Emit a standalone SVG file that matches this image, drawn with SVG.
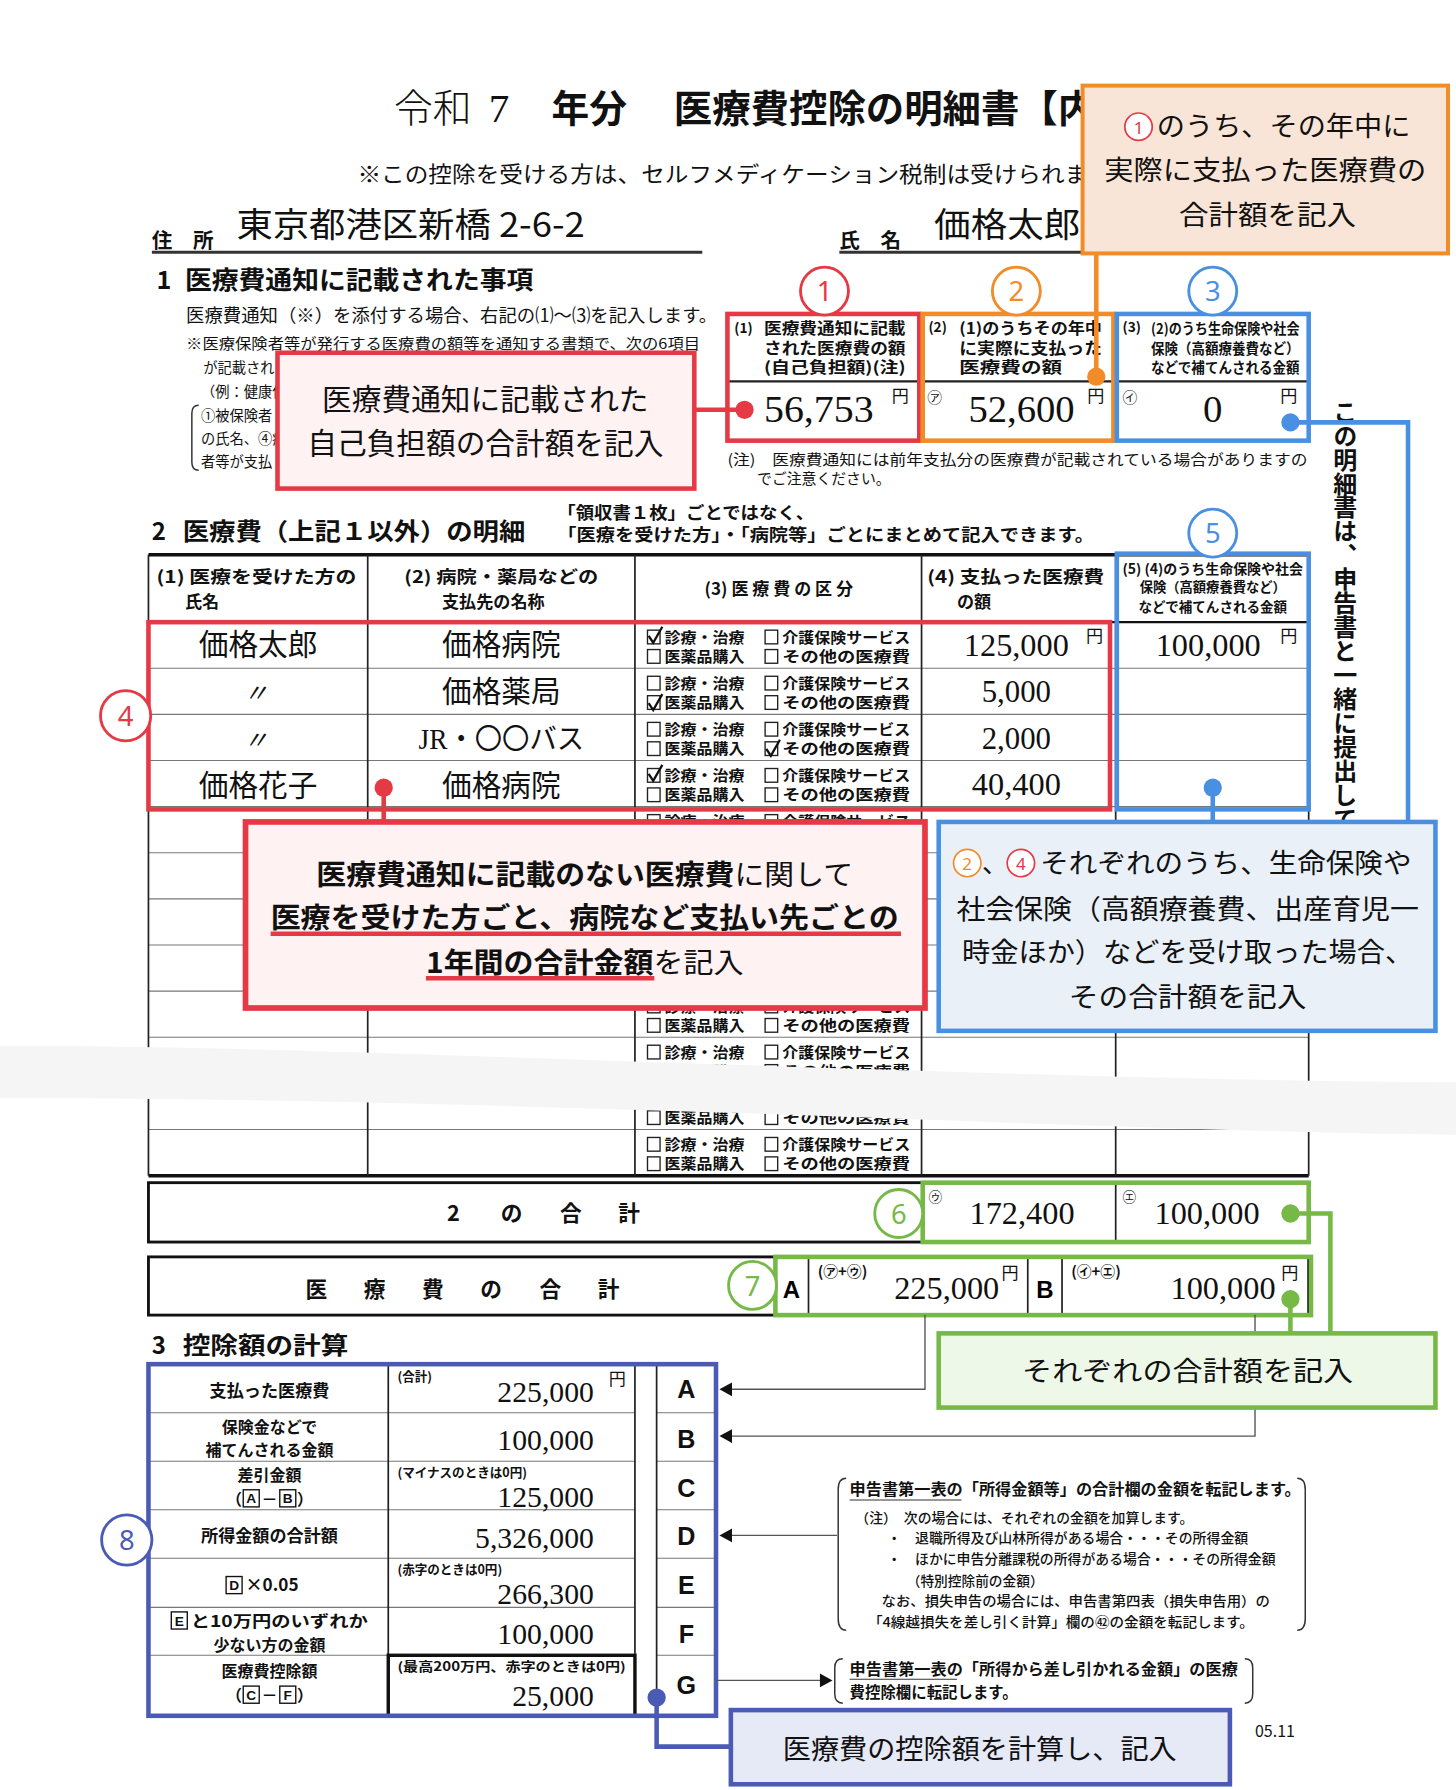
<svg xmlns="http://www.w3.org/2000/svg" width="1456" height="1790" viewBox="0 0 1456 1790">
<style>
.j{font-family:"Noto Sans CJK JP","Noto Sans",sans-serif;fill:#111}
.jb{font-family:"Noto Sans CJK JP","Noto Sans",sans-serif;font-weight:700;fill:#111}
.sf{font-family:"Liberation Serif","Noto Sans CJK JP",serif;fill:#111}
.ln{stroke:#222;stroke-width:1.5;fill:none}
.lg{stroke:#777;stroke-width:1;fill:none}
.bx{fill:#fff;stroke:#222;stroke-width:1.2}
.ck{fill:none;stroke:#111;stroke-width:2}
.cr{stroke:#e63946;fill:none;stroke-width:4}
.co{stroke:#f28c28;fill:none;stroke-width:4}
.cb{stroke:#4a90e2;fill:none;stroke-width:4}
.cg{stroke:#76b947;fill:none;stroke-width:4}
.ci{stroke:#4b5bb5;fill:none;stroke-width:4}
.num{font-family:"Noto Sans",sans-serif;font-size:24px;text-anchor:middle}
.cbt{font-family:"Noto Sans CJK JP",sans-serif;font-weight:700;font-size:13px;fill:#111}
.lab{font-family:"Noto Sans CJK JP",sans-serif;font-weight:700;font-size:15px;fill:#111;text-anchor:middle}
.lab2{font-family:"Noto Sans CJK JP",sans-serif;font-weight:700;font-size:14px;fill:#111;text-anchor:middle}
.sq{fill:none;stroke:#111;stroke-width:1.2}
.sql{font-family:"Liberation Sans",sans-serif;font-weight:700;font-size:12px;fill:#111;text-anchor:middle}
.gl{stroke:#555;stroke-width:1.2;fill:none}
.ah{fill:#111}
</style>
<defs>
<g id="cbrow">
<rect class="bx" x="567" y="7" width="11" height="12"/>
<text class="cbt" x="582" y="18" textLength="70" lengthAdjust="spacingAndGlyphs">診療・治療</text>
<rect class="bx" x="670" y="7" width="11" height="12"/>
<text class="cbt" x="685" y="18" textLength="112" lengthAdjust="spacingAndGlyphs">介護保険サービス</text>
<rect class="bx" x="567" y="24" width="11" height="12"/>
<text class="cbt" x="582" y="35" textLength="70" lengthAdjust="spacingAndGlyphs">医薬品購入</text>
<rect class="bx" x="670" y="24" width="11" height="12"/>
<text class="cbt" x="685" y="35" textLength="112" lengthAdjust="spacingAndGlyphs">その他の医療費</text>
</g>
</defs>
<rect width="1456" height="1790" fill="#fff"/>
<g transform="scale(1.14196,1.14158)">

<!-- Header -->
<g id="title">
<text class="j" x="345" y="107" font-size="34" font-weight="300">令和</text>
<text class="sf" x="428" y="107" font-size="36">7</text>
<text class="jb" x="483" y="107" font-size="33">年分</text>
<text class="jb" x="590" y="107" font-size="33" textLength="370" lengthAdjust="spacingAndGlyphs">医療費控除の明細書【内</text>
<text class="j" x="313" y="159" font-size="19" textLength="640" lengthAdjust="spacingAndGlyphs">※この控除を受ける方は、セルフメディケーション税制は受けられま</text>
<text class="jb" x="133" y="217" font-size="18">住　所</text>
<text class="j" x="207" y="208" font-size="30" textLength="305" lengthAdjust="spacingAndGlyphs">東京都港区新橋 2-6-2</text>
<line x1="133" y1="221" x2="615" y2="221" stroke="#333" stroke-width="2.5"/>
<text class="jb" x="735" y="217" font-size="18">氏　名</text>
<text class="j" x="818" y="208" font-size="30" textLength="128" lengthAdjust="spacingAndGlyphs">価格太郎</text>
<line x1="735" y1="221" x2="948" y2="221" stroke="#333" stroke-width="2.5"/>
</g>

<!-- Section 1 -->
<g id="sec1">
<text class="jb" x="137" y="253" font-size="22">1</text>
<text class="jb" x="162" y="253" font-size="22" textLength="305" lengthAdjust="spacingAndGlyphs">医療費通知に記載された事項</text>
<text class="j" x="163" y="282" font-size="16" textLength="465" lengthAdjust="spacingAndGlyphs">医療費通知（※）を添付する場合、右記の⑴〜⑶を記入します。</text>
<text class="j" x="163" y="306" font-size="12.5" textLength="450" lengthAdjust="spacingAndGlyphs" fill="#333">※医療保険者等が発行する医療費の額等を通知する書類で、次の6項目</text>
<text class="j" x="178" y="327" font-size="12.5" fill="#333">が記載され</text>
<text class="j" x="176" y="348" font-size="12.5" fill="#333">（例：健康保</text>
<text class="j" x="176" y="369" font-size="12.5" fill="#333">①被保険者</text>
<text class="j" x="176" y="389" font-size="12.5" fill="#333">の氏名、④療</text>
<text class="j" x="176" y="409" font-size="12.5" fill="#333">者等が支払</text>
<path d="M174,355 Q168,355 168,362 L168,405 Q168,412 174,412" fill="none" stroke="#333" stroke-width="1.3"/>

<text class="jb" x="643" y="292" font-size="12">(1)</text>
<text class="jb" x="669" y="293" font-size="13.5" textLength="124" lengthAdjust="spacingAndGlyphs">医療費通知に記載</text>
<text class="jb" x="669" y="310" font-size="13.5" textLength="124" lengthAdjust="spacingAndGlyphs">された医療費の額</text>
<text class="jb" x="669" y="327" font-size="13.5" textLength="124" lengthAdjust="spacingAndGlyphs">(自己負担額)(注)</text>
<line x1="637" y1="334" x2="805" y2="334" stroke="#222" stroke-width="2"/>
<text class="sf" x="669" y="370" font-size="34" textLength="96" lengthAdjust="spacingAndGlyphs">56,753</text>
<text class="j" x="781" y="352" font-size="15">円</text>

<text class="jb" x="813" y="291" font-size="12">(2)</text>
<text class="jb" x="840" y="293" font-size="13.5" textLength="125" lengthAdjust="spacingAndGlyphs">(1)のうちその年中</text>
<text class="jb" x="840" y="310" font-size="13.5" textLength="125" lengthAdjust="spacingAndGlyphs">に実際に支払った</text>
<text class="jb" x="840" y="327" font-size="13.5" textLength="90" lengthAdjust="spacingAndGlyphs">医療費の額</text>
<line x1="808" y1="334" x2="975" y2="334" stroke="#222" stroke-width="2"/>
<text class="j" x="812" y="353" font-size="13">㋐</text>
<text class="sf" x="848" y="370" font-size="34" textLength="93" lengthAdjust="spacingAndGlyphs">52,600</text>
<text class="j" x="952" y="352" font-size="15">円</text>

<text class="jb" x="983" y="291" font-size="12">(3)</text>
<text class="jb" x="1008" y="293" font-size="12.5" textLength="130" lengthAdjust="spacingAndGlyphs">(2)のうち生命保険や社会</text>
<text class="jb" x="1008" y="310" font-size="12.5" textLength="130" lengthAdjust="spacingAndGlyphs">保険（高額療養費など）</text>
<text class="jb" x="1008" y="327" font-size="12.5" textLength="130" lengthAdjust="spacingAndGlyphs">などで補てんされる金額</text>
<line x1="978" y1="334" x2="1146" y2="334" stroke="#222" stroke-width="2"/>
<text class="j" x="983" y="353" font-size="13">㋑</text>
<text class="sf" x="1062" y="370" font-size="34" text-anchor="middle">0</text>
<text class="j" x="1121" y="352" font-size="15">円</text>

<text class="j" x="637" y="407" font-size="13" textLength="508" lengthAdjust="spacingAndGlyphs">(注)　医療費通知には前年支払分の医療費が記載されている場合がありますの</text>
<text class="j" x="663" y="424" font-size="13">でご注意ください。</text>
</g>

<g id="vtext">
<text class="jb" x="1178" y="350" font-size="21" writing-mode="tb">この明細書は、申告書と一緒に提出して</text>
</g>

<!-- Section 2 table -->
<g id="sec2">
<text class="jb" x="133" y="473" font-size="21">2</text>
<text class="jb" x="160" y="473" font-size="21" textLength="300" lengthAdjust="spacingAndGlyphs">医療費（上記１以外）の明細</text>
<text class="jb" x="488" y="455" font-size="15" textLength="225" lengthAdjust="spacingAndGlyphs" font-weight="500">「領収書１枚」ごとではなく、</text>
<text class="jb" x="488" y="474" font-size="15" textLength="470" lengthAdjust="spacingAndGlyphs" font-weight="500">「医療を受けた方」・「病院等」ごとにまとめて記入できます。</text>

<line x1="130" y1="486" x2="1146" y2="486" stroke="#111" stroke-width="3"/>
<line x1="130" y1="545" x2="1146" y2="545" stroke="#111" stroke-width="2"/>
<g class="lg">
<line x1="130" y1="585.4" x2="1146" y2="585.4"/>
<line x1="130" y1="625.8" x2="1146" y2="625.8"/>
<line x1="130" y1="666.2" x2="1146" y2="666.2"/>
<line x1="130" y1="706.6" x2="1146" y2="706.6"/>
<line x1="130" y1="747" x2="1146" y2="747"/>
<line x1="130" y1="787.4" x2="1146" y2="787.4"/>
<line x1="130" y1="827.8" x2="1146" y2="827.8"/>
<line x1="130" y1="868.2" x2="1146" y2="868.2"/>
<line x1="130" y1="908.6" x2="1146" y2="908.6"/>
<line x1="130" y1="949" x2="1146" y2="949"/>
<line x1="130" y1="989.4" x2="1146" y2="989.4"/>
</g>
<line x1="130" y1="1030" x2="1146" y2="1030" stroke="#111" stroke-width="3"/>
<g class="ln">
<line x1="130" y1="486" x2="130" y2="1030"/>
<line x1="322" y1="486" x2="322" y2="1030"/>
<line x1="556" y1="486" x2="556" y2="1030"/>
<line x1="807" y1="486" x2="807" y2="1030"/>
<line x1="977" y1="486" x2="977" y2="1030"/>
<line x1="1146" y1="486" x2="1146" y2="1030"/>
</g>
<text class="jb" x="137" y="511" font-size="15" textLength="175" lengthAdjust="spacingAndGlyphs">(1) 医療を受けた方の</text>
<text class="jb" x="162" y="533" font-size="15">氏名</text>
<text class="lab" x="439" y="511" textLength="170" lengthAdjust="spacingAndGlyphs">(2) 病院・薬局などの</text>
<text class="lab" x="432" y="533">支払先の名称</text>
<text class="lab" x="682" y="521" textLength="130" lengthAdjust="spacingAndGlyphs">(3) 医 療 費 の 区 分</text>
<text class="jb" x="812" y="511" font-size="15" textLength="155" lengthAdjust="spacingAndGlyphs">(4) 支払った医療費</text>
<text class="jb" x="838" y="533" font-size="15">の額</text>
<text class="jb" x="983" y="503" font-size="12" textLength="158" lengthAdjust="spacingAndGlyphs">(5) (4)のうち生命保険や社会</text>
<text class="jb" x="1062" y="519" font-size="12" text-anchor="middle" textLength="128" lengthAdjust="spacingAndGlyphs">保険（高額療養費など）</text>
<text class="jb" x="1062" y="536" font-size="12" text-anchor="middle" textLength="130" lengthAdjust="spacingAndGlyphs">などで補てんされる金額</text>

<use href="#cbrow" y="545"/>
<use href="#cbrow" y="585.4"/>
<use href="#cbrow" y="625.8"/>
<use href="#cbrow" y="666.2"/>
<use href="#cbrow" y="706.6"/>
<use href="#cbrow" y="747"/>
<use href="#cbrow" y="787.4"/>
<use href="#cbrow" y="827.8"/>
<use href="#cbrow" y="868.2"/>
<use href="#cbrow" y="908.6"/>
<use href="#cbrow" y="949"/>
<use href="#cbrow" y="989.4"/>
<path class="ck" d="M568,557 L572,563 L580,549"/>
<path class="ck" d="M568,616 L572,622 L580,608"/>
<path class="ck" d="M671,656 L675,662 L683,648"/>
<path class="ck" d="M568,678 L572,684 L580,670"/>

<text class="sf" x="226" y="574" font-size="26" text-anchor="middle">価格太郎</text>
<text class="sf" x="439" y="574" font-size="26" text-anchor="middle">価格病院</text>
<text class="sf" x="890" y="575" font-size="27" text-anchor="middle" textLength="92" lengthAdjust="spacingAndGlyphs">125,000</text>
<text class="j" x="951" y="562" font-size="15">円</text>
<text class="sf" x="1058" y="575" font-size="27" text-anchor="middle" textLength="92" lengthAdjust="spacingAndGlyphs">100,000</text>
<text class="j" x="1121" y="562" font-size="15">円</text>

<text class="sf" x="224" y="615" font-size="22" text-anchor="middle" font-style="italic">〃</text>
<text class="sf" x="439" y="615" font-size="26" text-anchor="middle">価格薬局</text>
<text class="sf" x="890" y="615" font-size="27" text-anchor="middle">5,000</text>

<text class="sf" x="224" y="656" font-size="22" text-anchor="middle" font-style="italic">〃</text>
<text class="sf" x="439" y="656" font-size="25" text-anchor="middle" textLength="145" lengthAdjust="spacingAndGlyphs">JR・〇〇バス</text>
<text class="sf" x="890" y="656" font-size="27" text-anchor="middle">2,000</text>

<text class="sf" x="226" y="697" font-size="26" text-anchor="middle">価格花子</text>
<text class="sf" x="439" y="697" font-size="26" text-anchor="middle">価格病院</text>
<text class="sf" x="890" y="696" font-size="27" text-anchor="middle" textLength="78" lengthAdjust="spacingAndGlyphs">40,400</text>
</g>

<!-- gray cut band -->
<path d="M0,916 C150,916 300,921 650,933 C950,943 1150,948 1275,948 L1275,994 C1150,993 950,986 650,975 C300,964 150,962 0,962 Z" fill="#f5f5f5"/>

<!-- totals -->
<g id="totals">
<rect x="130" y="1036" width="1016" height="52" fill="#fff" stroke="#111" stroke-width="2.5"/>
<text class="jb" x="397" y="1070" font-size="19" text-anchor="middle">2</text>
<text class="jb" x="448" y="1070" font-size="19" text-anchor="middle">の</text>
<text class="jb" x="500" y="1070" font-size="19" text-anchor="middle">合</text>
<text class="jb" x="551" y="1070" font-size="19" text-anchor="middle">計</text>
<line x1="977" y1="1036" x2="977" y2="1088" class="ln"/>
<text class="j" x="813" y="1053" font-size="12">㋒</text>
<text class="sf" x="895" y="1072" font-size="27" text-anchor="middle" textLength="92" lengthAdjust="spacingAndGlyphs">172,400</text>
<text class="j" x="983" y="1053" font-size="12">㋓</text>
<text class="sf" x="1057" y="1072" font-size="27" text-anchor="middle" textLength="92" lengthAdjust="spacingAndGlyphs">100,000</text>

<rect x="130" y="1101" width="1016" height="51" fill="#fff" stroke="#111" stroke-width="2.5"/>
<text class="jb" x="277" y="1136" font-size="19" text-anchor="middle">医</text>
<text class="jb" x="328" y="1136" font-size="19" text-anchor="middle">療</text>
<text class="jb" x="379" y="1136" font-size="19" text-anchor="middle">費</text>
<text class="jb" x="430" y="1136" font-size="19" text-anchor="middle">の</text>
<text class="jb" x="482" y="1136" font-size="19" text-anchor="middle">合</text>
<text class="jb" x="533" y="1136" font-size="19" text-anchor="middle">計</text>
<g class="ln">
<line x1="708" y1="1101" x2="708" y2="1152"/>
<line x1="900" y1="1101" x2="900" y2="1152"/>
<line x1="930" y1="1101" x2="930" y2="1152"/>
</g>
<text x="693" y="1137" font-size="21" text-anchor="middle" font-weight="700" font-family="Liberation Sans,sans-serif">A</text>
<text class="jb" x="716" y="1119" font-size="13">(㋐+㋒)</text>
<text class="sf" x="783" y="1138" font-size="27" textLength="92" lengthAdjust="spacingAndGlyphs">225,000</text>
<text class="j" x="877" y="1120" font-size="15">円</text>
<text x="915" y="1137" font-size="21" text-anchor="middle" font-weight="700" font-family="Liberation Sans,sans-serif">B</text>
<text class="jb" x="938" y="1119" font-size="13">(㋑+㋓)</text>
<text class="sf" x="1025" y="1138" font-size="27" textLength="92" lengthAdjust="spacingAndGlyphs">100,000</text>
<text class="j" x="1122" y="1120" font-size="15">円</text>
</g>

<!-- Section 3 -->
<g id="sec3">
<text class="jb" x="133" y="1186" font-size="21">3</text>
<text class="jb" x="160" y="1186" font-size="21" textLength="145" lengthAdjust="spacingAndGlyphs">控除額の計算</text>
<g class="lg" stroke="#555">
<line x1="130" y1="1237.5" x2="556" y2="1237.5"/>
<line x1="130" y1="1280" x2="556" y2="1280"/>
<line x1="130" y1="1322.5" x2="556" y2="1322.5"/>
<line x1="130" y1="1365" x2="556" y2="1365"/>
<line x1="130" y1="1408" x2="556" y2="1408"/>
<line x1="130" y1="1450" x2="556" y2="1450"/>
<line x1="575" y1="1237.5" x2="627" y2="1237.5"/>
<line x1="575" y1="1280" x2="627" y2="1280"/>
<line x1="575" y1="1322.5" x2="627" y2="1322.5"/>
<line x1="575" y1="1365" x2="627" y2="1365"/>
<line x1="575" y1="1408" x2="627" y2="1408"/>
<line x1="575" y1="1450" x2="627" y2="1450"/>
</g>
<g class="ln">
<line x1="340" y1="1195" x2="340" y2="1503"/>
<line x1="556" y1="1195" x2="556" y2="1503"/>
<line x1="575" y1="1195" x2="575" y2="1503"/>
</g>
<rect x="340" y="1450" width="216" height="53" fill="none" stroke="#111" stroke-width="3"/>

<text class="lab" x="236" y="1224">支払った医療費</text>
<text class="lab2" x="236" y="1255">保険金などで</text>
<text class="lab2" x="236" y="1275">補てんされる金額</text>
<text class="lab2" x="236" y="1297">差引金額</text>
<text class="lab2" x="205" y="1318">（</text>
<rect class="sq" x="213" y="1305" width="14" height="15"/>
<text class="sql" x="220" y="1317">A</text>
<text class="lab2" x="236" y="1318">－</text>
<rect class="sq" x="245" y="1305" width="14" height="15"/>
<text class="sql" x="252" y="1317">B</text>
<text class="lab2" x="267" y="1318">）</text>
<text class="lab" x="236" y="1351">所得金額の合計額</text>
<rect class="sq" x="198" y="1381" width="14" height="15"/>
<text class="sql" x="205" y="1393">D</text>
<text class="jb" x="215" y="1394" font-size="15" font-family="Liberation Sans,sans-serif">×0.05</text>
<rect class="sq" x="150" y="1412" width="14" height="15"/>
<text class="sql" x="157" y="1424">E</text>
<text class="jb" x="167" y="1425" font-size="14" textLength="155" lengthAdjust="spacingAndGlyphs">と10万円のいずれか</text>
<text class="lab2" x="236" y="1446">少ない方の金額</text>
<text class="lab2" x="236" y="1469">医療費控除額</text>
<text class="lab2" x="205" y="1490">（</text>
<rect class="sq" x="213" y="1477" width="14" height="15"/>
<text class="sql" x="220" y="1489">C</text>
<text class="lab2" x="236" y="1490">－</text>
<rect class="sq" x="245" y="1477" width="14" height="15"/>
<text class="sql" x="252" y="1489">F</text>
<text class="lab2" x="267" y="1490">）</text>

<text class="jb" x="348" y="1210" font-size="11">(合計)</text>
<text class="sf" x="520" y="1228" font-size="26" text-anchor="end">225,000</text>
<text class="j" x="533" y="1213" font-size="15">円</text>
<text class="sf" x="520" y="1270" font-size="26" text-anchor="end">100,000</text>
<text class="jb" x="348" y="1294" font-size="11">(マイナスのときは0円)</text>
<text class="sf" x="520" y="1320" font-size="26" text-anchor="end">125,000</text>
<text class="sf" x="520" y="1356" font-size="26" text-anchor="end">5,326,000</text>
<text class="jb" x="348" y="1379" font-size="11">(赤字のときは0円)</text>
<text class="sf" x="520" y="1405" font-size="26" text-anchor="end">266,300</text>
<text class="sf" x="520" y="1440" font-size="26" text-anchor="end">100,000</text>
<text class="jb" x="348" y="1464" font-size="11" textLength="200" lengthAdjust="spacingAndGlyphs">(最高200万円、赤字のときは0円)</text>
<text class="sf" x="520" y="1494" font-size="26" text-anchor="end">25,000</text>

<g font-family="Liberation Sans,sans-serif" font-weight="700" font-size="22" text-anchor="middle" fill="#111">
<text x="601" y="1225">A</text>
<text x="601" y="1268">B</text>
<text x="601" y="1311">C</text>
<text x="601" y="1353">D</text>
<text x="601" y="1396">E</text>
<text x="601" y="1439">F</text>
<text x="601" y="1484">G</text>
</g>
</g>

<g id="notes">
<path d="M741,1295 Q734,1295 734,1305 L734,1418 Q734,1428 741,1428" fill="none" stroke="#333" stroke-width="1.3"/>
<path d="M1136,1295 Q1143,1295 1143,1305 L1143,1418 Q1143,1428 1136,1428" fill="none" stroke="#333" stroke-width="1.3"/>
<text class="jb" x="744" y="1310" font-size="13.5" textLength="395" lengthAdjust="spacingAndGlyphs">申告書第一表の「所得金額等」の合計欄の金額を転記します。</text>
<line x1="744" y1="1314" x2="842" y2="1314" stroke="#333" stroke-width="1"/>
<text class="j" x="749" y="1334" font-size="12" textLength="296" lengthAdjust="spacingAndGlyphs" font-weight="500">（注）　次の場合には、それぞれの金額を加算します。</text>
<text class="j" x="777" y="1352" font-size="12" textLength="316" lengthAdjust="spacingAndGlyphs" font-weight="500">・　退職所得及び山林所得がある場合・・・その所得金額</text>
<text class="j" x="777" y="1370" font-size="12" textLength="340" lengthAdjust="spacingAndGlyphs" font-weight="500">・　ほかに申告分離課税の所得がある場合・・・その所得金額</text>
<text class="j" x="794" y="1389" font-size="12" font-weight="500">（特別控除前の金額）</text>
<text class="j" x="772" y="1407" font-size="12" textLength="340" lengthAdjust="spacingAndGlyphs" font-weight="500">なお、損失申告の場合には、申告書第四表（損失申告用）の</text>
<text class="j" x="760" y="1425" font-size="12" textLength="338" lengthAdjust="spacingAndGlyphs" font-weight="500">「4線越損失を差し引く計算」欄の㊷の金額を転記します。</text>

<path d="M738,1453 Q731,1453 731,1461 L731,1484 Q731,1492 738,1492" fill="none" stroke="#333" stroke-width="1.3"/>
<path d="M1090,1453 Q1097,1453 1097,1461 L1097,1484 Q1097,1492 1090,1492" fill="none" stroke="#333" stroke-width="1.3"/>
<text class="jb" x="744" y="1467" font-size="13.5" textLength="340" lengthAdjust="spacingAndGlyphs">申告書第一表の「所得から差し引かれる金額」の医療</text>
<line x1="744" y1="1471" x2="838" y2="1471" stroke="#333" stroke-width="1"/>
<text class="jb" x="744" y="1487" font-size="13.5">費控除欄に転記します。</text>
<text class="j" x="1099" y="1522" font-size="14" fill="#444">05.11</text>
</g>

<!-- highlight frames -->
<g id="frames">
<rect class="cr" x="637" y="275" width="168" height="111"/>
<rect class="co" x="808" y="275" width="167" height="111"/>
<rect class="cb" x="978" y="275" width="168" height="111"/>
<rect class="cr" x="130" y="545" width="842" height="164"/>
<rect class="cb" x="978" y="485" width="168" height="224"/>
<rect class="cg" x="808" y="1036" width="338" height="52"/>
<rect class="cg" x="679" y="1101" width="469" height="51"/>
<rect class="ci" x="130" y="1195" width="497" height="308"/>
</g>

<!-- number circles -->
<g id="badges">
<circle cx="722" cy="255" r="21" fill="#fff" stroke="#e63946" stroke-width="2.5"/><text class="num" x="722" y="264" fill="#e63946">1</text>
<circle cx="890" cy="255" r="21" fill="#fff" stroke="#f28c28" stroke-width="2.5"/><text class="num" x="890" y="264" fill="#f28c28">2</text>
<circle cx="1062" cy="255" r="21" fill="#fff" stroke="#4a90e2" stroke-width="2.5"/><text class="num" x="1062" y="264" fill="#4a90e2">3</text>
<circle cx="110" cy="627" r="22" fill="#fff" stroke="#e63946" stroke-width="2.5"/><text class="num" x="110" y="636" fill="#e63946">4</text>
<circle cx="1062" cy="467" r="21" fill="#fff" stroke="#4a90e2" stroke-width="2.5"/><text class="num" x="1062" y="476" fill="#4a90e2">5</text>
<circle cx="787" cy="1063" r="21" fill="#fff" stroke="#76b947" stroke-width="2.5"/><text class="num" x="787" y="1072" fill="#76b947">6</text>
<circle cx="659" cy="1126" r="21" fill="#fff" stroke="#76b947" stroke-width="2.5"/><text class="num" x="659" y="1135" fill="#76b947">7</text>
<circle cx="111" cy="1349" r="22" fill="#fff" stroke="#4b5bb5" stroke-width="2.5"/><text class="num" x="111" y="1358" fill="#4b5bb5">8</text>
</g>

<!-- connectors -->
<g id="connectors">
<path d="M960,222 V330" stroke="#f28c28" stroke-width="4" fill="none"/>
<circle cx="960" cy="330" r="8" fill="#f28c28"/>
<path d="M608,359 H652" stroke="#e63946" stroke-width="4" fill="none"/>
<circle cx="652" cy="359" r="8" fill="#e63946"/>
<path d="M1130,370 H1233 V720" stroke="#4a90e2" stroke-width="4" fill="none"/>
<circle cx="1130" cy="370" r="8" fill="#4a90e2"/>
<path d="M1062,690 V720" stroke="#4a90e2" stroke-width="4" fill="none"/>
<circle cx="1062" cy="690" r="8" fill="#4a90e2"/>
<path d="M336,690 V720" stroke="#e63946" stroke-width="4" fill="none"/>
<circle cx="336" cy="690" r="8" fill="#e63946"/>
<path d="M1130,1063 H1165 V1168" stroke="#76b947" stroke-width="4" fill="none"/>
<circle cx="1130" cy="1063" r="8" fill="#76b947"/>
<path d="M1130,1138 V1168" stroke="#76b947" stroke-width="4" fill="none"/>
<circle cx="1130" cy="1138" r="8" fill="#76b947"/>
<path d="M575,1487 V1530 H640" stroke="#4b5bb5" stroke-width="4" fill="none"/>
<circle cx="575" cy="1487" r="8" fill="#4b5bb5"/>
<path class="gl" d="M810,1152 V1217 H638"/>
<polygon class="ah" points="630,1217 641,1211 641,1223"/>
<path class="gl" d="M1099,1152 V1258 H638"/>
<polygon class="ah" points="630,1258 641,1252 641,1264"/>
<path class="gl" d="M733,1345 H638"/>
<polygon class="ah" points="630,1345 641,1339 641,1351"/>
<path class="gl" d="M627,1472 H719"/>
<polygon class="ah" points="729,1472 718,1466 718,1478"/>
</g>

<!-- callouts -->
<g id="callout-orange">
<rect x="948" y="75" width="320" height="147" fill="#f8e5d7" stroke="#f28c28" stroke-width="3.5"/>
<circle cx="997" cy="111" r="12" fill="#fff" stroke="#e63946" stroke-width="1.5"/>
<text x="997" y="117" font-family="Noto Sans,sans-serif" font-size="15" fill="#e63946" text-anchor="middle">1</text>
<text class="j" x="1013" y="119" font-size="24" textLength="222" lengthAdjust="spacingAndGlyphs">のうち、その年中に</text>
<text class="j" x="1108" y="158" font-size="24" text-anchor="middle" textLength="282" lengthAdjust="spacingAndGlyphs">実際に支払った医療費の</text>
<text class="j" x="1110" y="197" font-size="24" text-anchor="middle" textLength="155" lengthAdjust="spacingAndGlyphs">合計額を記入</text>
</g>
<g id="callout-red1">
<rect x="243" y="309" width="365" height="119" fill="#fff2f3" stroke="#e63946" stroke-width="4"/>
<text class="j" x="425" y="359" font-size="26" text-anchor="middle">医療費通知に記載された</text>
<text class="j" x="425" y="398" font-size="26" text-anchor="middle">自己負担額の合計額を記入</text>
</g>
<g id="callout-red2">
<rect x="215" y="720" width="595" height="163" fill="#fff2f3" stroke="#e63946" stroke-width="5"/>
<text class="j" x="512" y="775" font-size="25" text-anchor="middle" textLength="470" lengthAdjust="spacingAndGlyphs"><tspan font-weight="700">医療費通知に記載のない医療費</tspan>に関して</text>
<text class="jb" x="512" y="813" font-size="25" text-anchor="middle" textLength="550" lengthAdjust="spacingAndGlyphs">医療を受けた方ごと、病院など支払い先ごとの</text>
<line x1="237" y1="818" x2="789" y2="818" stroke="#e63946" stroke-width="4"/>
<text class="j" x="512" y="852" font-size="25" text-anchor="middle" textLength="278" lengthAdjust="spacingAndGlyphs"><tspan font-weight="700">1年間の合計金額</tspan>を記入</text>
<line x1="373" y1="857" x2="573" y2="857" stroke="#e63946" stroke-width="4"/>
</g>
<g id="callout-blue">
<rect x="822" y="720" width="435" height="183" fill="#e9f0f8" stroke="#4a90e2" stroke-width="4"/>
<circle cx="847" cy="756" r="12" fill="#fff" stroke="#f28c28" stroke-width="1.5"/>
<text x="847" y="762" font-family="Noto Sans,sans-serif" font-size="15" fill="#f28c28" text-anchor="middle">2</text>
<text class="j" x="860" y="765" font-size="23">、</text>
<circle cx="894" cy="756" r="12" fill="#fff" stroke="#e63946" stroke-width="1.5"/>
<text x="894" y="762" font-family="Noto Sans,sans-serif" font-size="15" fill="#e63946" text-anchor="middle">4</text>
<text class="j" x="911" y="765" font-size="24" textLength="325" lengthAdjust="spacingAndGlyphs">それぞれのうち、生命保険や</text>
<text class="j" x="1040" y="805" font-size="24" text-anchor="middle" textLength="405" lengthAdjust="spacingAndGlyphs">社会保険（高額療養費、出産育児一</text>
<text class="j" x="1040" y="843" font-size="24" text-anchor="middle" textLength="395" lengthAdjust="spacingAndGlyphs">時金ほか）などを受け取った場合、</text>
<text class="j" x="1040" y="882" font-size="24" text-anchor="middle" textLength="208" lengthAdjust="spacingAndGlyphs">その合計額を記入</text>
</g>
<g id="callout-green">
<rect x="822" y="1168" width="435" height="65" fill="#eef8e8" stroke="#76b947" stroke-width="4"/>
<text class="j" x="1040" y="1210" font-size="24" text-anchor="middle" textLength="290" lengthAdjust="spacingAndGlyphs">それぞれの合計額を記入</text>
</g>
<g id="callout-indigo">
<rect x="640" y="1498" width="437" height="65" fill="#e6e9f6" stroke="#4b5bb5" stroke-width="4"/>
<text class="j" x="858" y="1541" font-size="24" text-anchor="middle" textLength="345" lengthAdjust="spacingAndGlyphs">医療費の控除額を計算し、記入</text>
</g>
</g>
</svg>
